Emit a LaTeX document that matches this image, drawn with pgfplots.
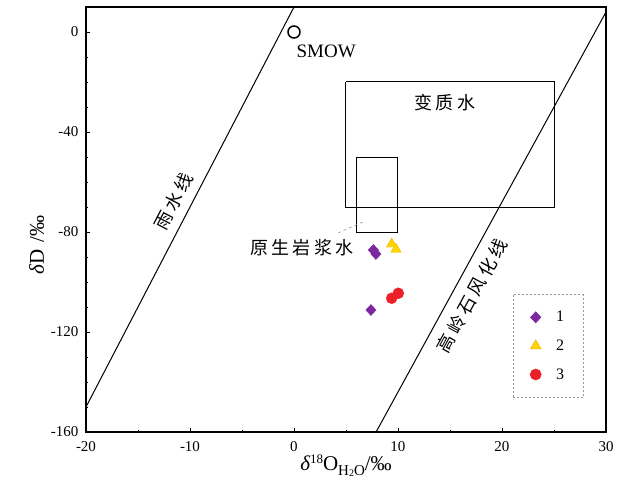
\documentclass[border=0pt]{standalone}
\usepackage{fontspec}
\setmainfont{Liberation Serif}
\newfontfamily\cjk{Noto Sans CJK SC}
\usepackage{pgfplots}
\pgfplotsset{compat=1.18}
\usetikzlibrary{calc}
\definecolor{purp}{RGB}{125,40,160}
\definecolor{yell}{RGB}{255,215,0}
\definecolor{yedge}{RGB}{245,175,0}
\definecolor{redc}{RGB}{235,32,40}
\newcommand{\g}{\hspace{3.5pt}}
\begin{document}
\begin{tikzpicture}
\begin{axis}[
  scale only axis, width=520pt, height=425pt,
  xmin=-20, xmax=30, ymin=-160, ymax=10,
  xtick={-20,-10,0,10,20,30}, ytick={-160,-120,-80,-40,0},
  minor x tick num=1, minor y tick num=3,
  tick align=inside, tick pos=left,
  major tick length=4pt, minor tick length=2.5pt,
  axis line style={line width=1.2pt},
  every tick/.style={black, line width=0.8pt},
  tick label style={font=\fontsize{15}{17}\selectfont},
  yticklabel style={xshift=-4pt},
  xticklabel style={yshift=-6pt},
  /pgf/number format/assume math mode=true,
  xlabel={\fontsize{21}{24}\selectfont{\itshape δ}\raisebox{0.8ex}{\fontsize{13}{13}\selectfont 18}O\raisebox{-0.45ex}{\fontsize{15}{15}\selectfont H\raisebox{-0.25ex}{\fontsize{10}{10}\selectfont 2}O}/‰},
  xlabel style={yshift=4pt},
  ylabel={\fontsize{21}{24}\selectfont{\itshape δ}D\,\,/‰},
  ylabel style={at={(ticklabel cs:0.45)}, xshift=-4pt},
  legend style={at={(rel axis cs:0.821,0.3247)}, anchor=north west,
    draw=gray!80, dash pattern=on 2pt off 2pt, line width=0.6pt,
    inner xsep=17pt, inner ysep=15pt, row sep=12.5pt,
    font=\fontsize{16}{16}\selectfont, cells={anchor=west},
    /tikz/every odd column/.style={column sep=13pt}},
]
% meteoric water line
\addplot[black, line width=1pt, forget plot] coordinates {(-20,-150) (0,10)};
% kaolinite weathering line
\addplot[black, line width=1pt, forget plot] coordinates {(7.8947,-160) (30,8)};
% metamorphic water box
\addplot[black, line width=1pt, forget plot] coordinates {(5,-20) (25,-20) (25,-70) (5,-70) (5,-20)};
% primary magmatic water box
\addplot[black, line width=1pt, forget plot] coordinates {(6,-50) (10,-50) (10,-80) (6,-80) (6,-50)};
% leader line
\addplot[gray, dashed, line width=0.5pt, forget plot] coordinates {(4.23,-80.4) (6.6,-76)};
% SMOW
\addplot[only marks, mark=o, mark size=6pt, black, line width=1.5pt, forget plot] coordinates {(0,0)};
% data
\addplot[only marks, mark=diamond*, mark size=5.5pt, color=purp, mark options={solid, fill=purp, xscale=1.25}]
  coordinates {(7.63,-87.2) (7.88,-88.8) (7.40,-111.2)};
\addlegendentry{1}
\addplot[only marks, mark=triangle*, mark size=6pt, draw=yedge, fill=yell, mark options={solid, draw=yedge, fill=yell}]
  coordinates {(9.39,-84.8) (9.81,-86.9)};
\addlegendentry{2}
\addplot[only marks, mark=*, mark size=5.5pt, color=redc, mark options={solid, fill=redc}]
  coordinates {(9.39,-106.5) (10.03,-104.5)};
\addlegendentry{3}
% labels
\node[font=\fontsize{19}{19}\selectfont] at (axis cs:3.1,-7.9) {SMOW};
\node[font=\cjk\fontsize{18}{18}\selectfont] at (axis cs:14.5,-28.4) {变\g 质\g 水};
\node[font=\cjk\fontsize{18}{18}\selectfont] at (axis cs:0.77,-86.4) {原\g 生\g 岩\g 浆\g 水};
\node[font=\cjk\fontsize{18}{18}\selectfont, rotate=62.5] at (axis cs:-11.6,-67.6) {雨\g 水\g 线};
\node[font=\cjk\fontsize{18}{18}\selectfont, rotate=61.3] at (axis cs:17.1,-105.5) {高\g 岭\g 石\g 风\g 化\g 线};
\end{axis}
\pgfresetboundingbox
\path[use as bounding box] ($(current axis.south west)+(-86pt,-59pt)$) rectangle ($(current axis.north east)+(18pt,7pt)$);
\end{tikzpicture}
\end{document}
